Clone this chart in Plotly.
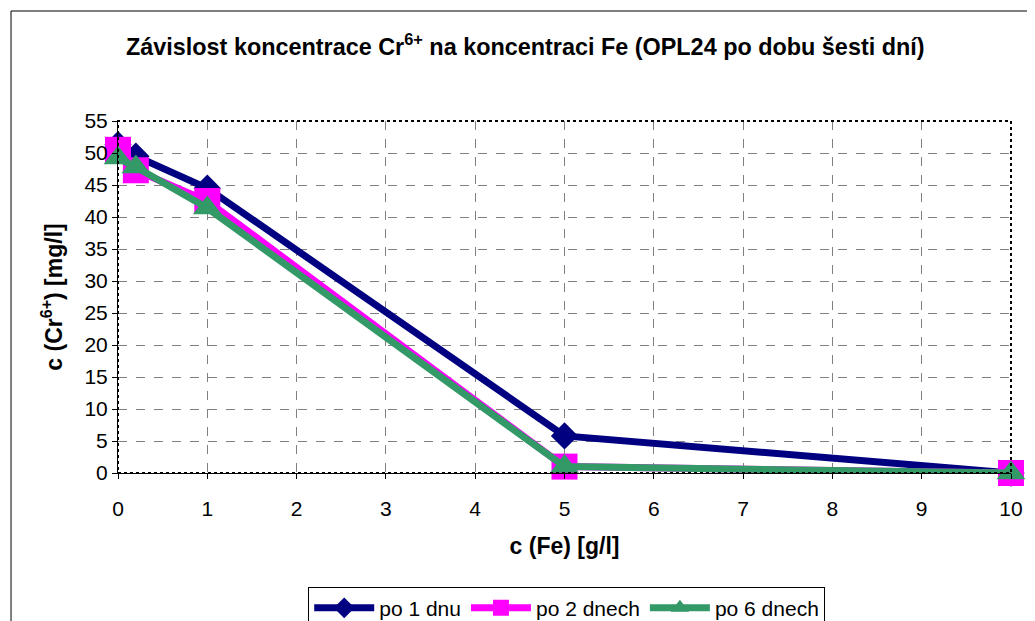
import plotly.graph_objects as go

# data
fe = [0, 0.2, 1, 5, 10]
po_1_dnu = [51.3, 49.5, 44.5, 5.8, 0.0]
po_2_dnech = [50.5, 47.3, 42.5, 1.0, 0.0]
po_6_dnech = [49.2, 47.8, 41.4, 1.0, 0.0]

FONT = "Arial, Liberation Sans, sans-serif"

fig = go.Figure()

fig.add_trace(go.Scatter(
    x=fe, y=po_1_dnu, name="po 1 dnu", mode="lines+markers",
    line=dict(color="#000080", width=7),
    marker=dict(symbol="diamond", size=21, color="#000080"),
    cliponaxis=False,
))
fig.add_trace(go.Scatter(
    x=fe, y=po_2_dnech, name="po 2 dnech", mode="lines+markers",
    line=dict(color="#FF00FF", width=7),
    marker=dict(symbol="square", size=26, color="#FF00FF"),
    cliponaxis=False,
))
fig.add_trace(go.Scatter(
    x=fe, y=po_6_dnech, name="po 6 dnech", mode="lines+markers",
    line=dict(color="#339966", width=7),
    marker=dict(symbol="triangle-up", size=25, color="#339966"),
    cliponaxis=False,
))

# page body adds an 8px offset, so the figure is sized to fit inside it
fig.update_layout(
    width=1027, height=613,
    margin=dict(l=110, r=16, t=113, b=148),
    paper_bgcolor="white", plot_bgcolor="white",
    font=dict(family=FONT, size=21, color="black"),
    showlegend=True,
    legend=dict(
        orientation="h", xref="paper", x=0.213, xanchor="left",
        yref="container", y=0.056, yanchor="top",
        bordercolor="black", borderwidth=1, font=dict(size=21),
        itemwidth=60, tracegroupgap=0,
    ),
    xaxis=dict(
        range=[0, 10], dtick=1, tick0=0,
        showline=True, linecolor="black", linewidth=1,
        ticks="outside", ticklen=5, tickcolor="black", ticklabelstandoff=12,
        showgrid=True, gridcolor="#808080", gridwidth=1, griddash="dash",
        zeroline=False,
        title=dict(text="<b>c (Fe) [g/l]</b>", font=dict(size=23), standoff=18),
    ),
    yaxis=dict(
        range=[0, 55], dtick=5, tick0=0,
        showline=True, linecolor="black", linewidth=1,
        ticks="outside", ticklen=5, tickcolor="black",
        showgrid=True, gridcolor="#808080", gridwidth=1, griddash="dash",
        zeroline=False,
        title=dict(text="<b>c (Cr<sup>6+</sup>) [mg/l]</b>", font=dict(size=23), standoff=15),
    ),
    # second y axis only to give the y ticks a cross look
    yaxis2=dict(overlaying="y", side="left", range=[0, 55], dtick=5, tick0=0,
                ticks="inside", ticklen=5, tickcolor="black",
                showticklabels=False, showgrid=False, showline=False, zeroline=False),
)

# dotted plot-area border
fig.add_shape(type="rect", xref="paper", yref="paper", x0=0, y0=0, x1=1, y1=1,
              line=dict(color="black", width=2, dash="dot"), layer="above")

# outer chart frame
fig.add_shape(type="rect", xref="paper", yref="paper",
              x0=-0.1198, y0=-0.6, x1=1.1, y1=1.3125,
              line=dict(color="black", width=1))

fig.add_annotation(
    text="<b>Závislost koncentrace Cr<sup>6+</sup> na koncentraci Fe (OPL24 po dobu šesti dní)</b>",
    xref="paper", yref="paper", x=0.456, y=1.215, xanchor="center", yanchor="middle",
    showarrow=False, font=dict(size=23.4),
)

fig.write_html("out.html")
